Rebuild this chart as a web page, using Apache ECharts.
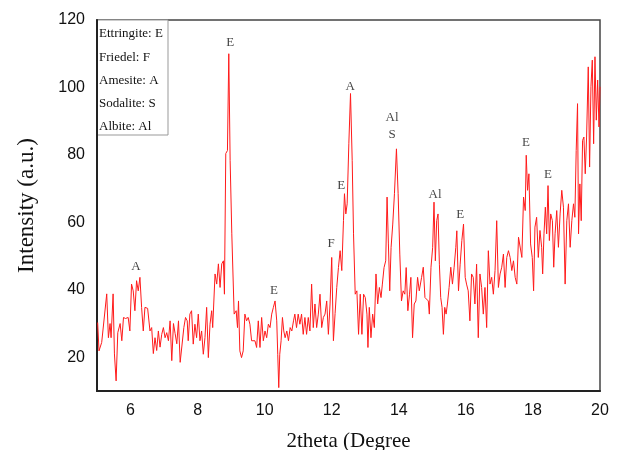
<!DOCTYPE html>
<html>
<head>
<meta charset="utf-8">
<script src="https://cdn.jsdelivr.net/npm/echarts@6/dist/echarts.min.js"></script>
<style>
  html, body { margin: 0; padding: 0; background: #fff; }
  #chart { width: 618px; height: 450px; }
</style>
</head>
<body>
<div id="chart"></div>
<script>
// 2theta positions (degrees)
var twoTheta = [
  5.02, 5.06, 5.14, 5.19, 5.29, 5.34, 5.39, 5.42, 5.48, 5.52, 5.57, 5.62, 5.69, 5.74, 5.79, 5.85, 5.93, 5.98,
  6.03, 6.08, 6.13, 6.18, 6.23, 6.28, 6.33, 6.38, 6.43, 6.51, 6.58, 6.63, 6.68, 6.73, 6.78, 6.83, 6.88, 6.93, 6.98,
  7.03, 7.08, 7.13, 7.18, 7.23, 7.28, 7.33, 7.38, 7.43, 7.48, 7.59, 7.64, 7.69, 7.72, 7.77, 7.82, 7.87, 7.92, 7.97,
  8.02, 8.07, 8.12, 8.17, 8.22, 8.27, 8.32, 8.37, 8.42, 8.45, 8.52, 8.57, 8.62, 8.67, 8.72, 8.77, 8.80, 8.84, 8.89, 8.93, 8.97,
  9.02, 9.09, 9.15, 9.19, 9.22, 9.26, 9.31, 9.36, 9.41, 9.46, 9.51, 9.56, 9.61, 9.66, 9.71, 9.76, 9.81, 9.86, 9.91, 9.96,
  10.01, 10.06, 10.11, 10.16, 10.21, 10.26, 10.31, 10.36, 10.39, 10.42, 10.45, 10.49, 10.53, 10.57, 10.61, 10.66, 10.71, 10.76, 10.81, 10.86, 10.90, 10.95,
  11.00, 11.05, 11.10, 11.15, 11.20, 11.25, 11.30, 11.35, 11.40, 11.45, 11.50, 11.55, 11.60, 11.65, 11.70, 11.75, 11.80, 11.85, 11.90, 11.95,
  12.00, 12.05, 12.10, 12.15, 12.20, 12.25, 12.30, 12.35, 12.38, 12.42, 12.46, 12.51, 12.56, 12.61, 12.65, 12.70, 12.75, 12.80, 12.85, 12.90, 12.95,
  13.00, 13.05, 13.08, 13.12, 13.17, 13.22, 13.27, 13.32, 13.37, 13.42, 13.47, 13.51, 13.56, 13.61, 13.65, 13.69, 13.73, 13.77, 13.82, 13.87, 13.93, 13.98,
  14.03, 14.08, 14.13, 14.18, 14.22, 14.27, 14.32, 14.36, 14.41, 14.46, 14.51, 14.56, 14.61, 14.68, 14.73, 14.78, 14.83, 14.88, 14.91, 14.96,
  15.01, 15.05, 15.09, 15.13, 15.17, 15.21, 15.25, 15.29, 15.33, 15.37, 15.41, 15.45, 15.50, 15.55, 15.60, 15.65, 15.70, 15.73, 15.78, 15.83, 15.88, 15.93, 15.98,
  16.02, 16.07, 16.12, 16.17, 16.22, 16.27, 16.32, 16.37, 16.42, 16.47, 16.52, 16.57, 16.62, 16.67, 16.72, 16.77, 16.82, 16.87, 16.92, 16.97,
  17.02, 17.07, 17.12, 17.17, 17.22, 17.27, 17.32, 17.37, 17.42, 17.47, 17.52, 17.57, 17.62, 17.67, 17.72, 17.77, 17.80, 17.84, 17.88, 17.93, 17.98,
  18.02, 18.06, 18.11, 18.16, 18.21, 18.26, 18.29, 18.33, 18.37, 18.41, 18.45, 18.49, 18.53, 18.58, 18.62, 18.66, 18.71, 18.76, 18.81, 18.86, 18.91, 18.96,
  19.01, 19.06, 19.11, 19.16, 19.21, 19.25, 19.29, 19.33, 19.36, 19.40, 19.44, 19.48, 19.52, 19.56, 19.60, 19.65, 19.69, 19.73, 19.77, 19.81, 19.85, 19.89, 19.93, 19.97, 20.00
]
// intensity (a.u.)
var intensity = [
  30.3, 21.9, 24.4, 24, 38.8, 25.8, 30, 25.8, 38.8, 21, 13, 27.3, 30, 24.9, 31.8, 31.5, 31.8, 27.8,
  41.7, 39.7, 33.8, 42.7, 39.7, 43.7, 34.8, 27.8, 34.8, 34.5, 27.8, 28.8, 21.1, 25.8, 22, 27.8, 23, 26.8, 28.8,
  25.8, 27.3, 24.9, 30.8, 19, 30, 27, 24, 30.8, 18.5, 28.8, 31.8, 30.8, 24.9, 32.8, 33.8, 23.9, 29.8, 25.8,
  32.8, 24.9, 27.8, 20.9, 25.8, 34.8, 19.9, 29.8, 33.8, 28.8, 44.7, 41.7, 47.7, 40.7, 47.7, 48.6, 38.7, 80.4, 81.3, 110, 78.4,
  56.6, 32.8, 33.8, 28.8, 36.7, 21.9, 19.9, 21.9, 32.8, 30.8, 31.8, 29.8, 24.9, 24.9, 24.9, 22.9, 30.8, 22.9, 31.8, 24.9,
  27.8, 25.8, 29.8, 28.8, 32.8, 34.8, 36.7, 30.8, 20.9, 11, 20.9, 24.9, 31.8, 27.8, 25.8, 27.8, 24.9, 28.8, 27.8, 30.8, 32.8, 28.8,
  32.8, 29.8, 32.8, 26.8, 31.8, 26.8, 31.8, 27.8, 41.7, 28.8, 35.8, 28.8, 32.8, 38.7, 28.8, 31.8, 32.8, 36.7, 26.8, 35.8,
  49.6, 24.9, 33, 40.7, 46.6, 51.6, 45.7, 60.5, 68.5, 62.5, 65.5, 83.3, 98.2, 78.4, 56.6, 38.7, 39.7, 26.8, 38.7, 26.8, 38.7,
  37.7, 32.8, 22.9, 34.8, 25.8, 32.8, 28.8, 44.7, 35.8, 40.7, 37.7, 41.7, 46.6, 48.6, 67.5, 53.6, 39.7, 52.6, 59.5, 68.5, 81.8, 68.5,
  50.6, 36.7, 39.7, 38.7, 46.6, 33.8, 38.7, 43.7, 25.8, 35.8, 36.7, 43.7, 39.7, 43.7, 46.7, 37.7, 37.7, 36.7, 32.8, 46.7,
  52.6, 66, 48.6, 60.5, 62.5, 47.6, 37.7, 34.8, 26.8, 34.8, 32.8, 35.8, 40.7, 46.7, 41.7, 46.7, 52.6, 57.5, 39.7, 47.6, 54.6, 59.5, 43.7,
  41.7, 39.7, 30.8, 44.7, 43.7, 35.8, 47.6, 25.8, 44.7, 40.7, 32.8, 40.7, 28.8, 51.6, 41.7, 43.7, 38.7, 45.7, 60.5, 40.7,
  44.7, 46.7, 50.6, 40.7, 49.6, 51.6, 49.6, 45.7, 48.6, 43.7, 41.7, 55.6, 55.6, 49.6, 67.5, 63.5, 79.9, 69.5, 74.4, 53.6, 49.6,
  39.7, 58.6, 61.5, 49.6, 57.6, 52.6, 44.7, 56.6, 64.5, 56.6, 70.9, 54.6, 62.5, 60.5, 46.7, 56.6, 63.5, 52.6, 62.5, 69.5, 64.5, 41.7,
  60.5, 65.5, 52.6, 60.5, 65.5, 61.5, 81.3, 95.2, 56.6, 71.4, 60.5, 84.3, 85.3, 74.4, 85.3, 106.1, 76.4, 100.2, 108.1, 83.3, 109.1, 90.3, 102.2, 88.3, 100.2
]

// phase labels placed above peaks
var peakNames = ['A', 'E', 'E', 'F', 'E', 'A', 'Al', 'S', 'Al', 'E', 'E', 'E']
var peakX = [6.16, 8.97, 10.28, 11.98, 12.28, 12.55, 13.8, 13.8, 15.08, 15.83, 17.79, 18.45]
var peakY = [46.9, 113.2, 39.7, 53.7, 70.9, 100.4, 91.2, 86.1, 68.3, 62.3, 83.7, 74.2]

var legendLines = ['Ettringite: E', 'Friedel: F', 'Amesite: A', 'Sodalite: S', 'Albite: Al']

var serif = '"Liberation Serif", "DejaVu Serif", serif'
var sans = '"Liberation Sans", Arial, sans-serif'

var lineData = twoTheta.map(function (x, i) { return [x, intensity[i]] })
var labelData = peakNames.map(function (n, i) { return { name: n, value: [peakX[i], peakY[i]] } })

var legendGraphics = [{
  type: 'rect',
  shape: { x: 97, y: 20, width: 71, height: 115 },
  style: { fill: '#fff', stroke: '#999', lineWidth: 1 }
}]
legendLines.forEach(function (t, i) {
  legendGraphics.push({
    type: 'text',
    x: 99,
    y: 34 + i * 23.2,
    style: { text: t, font: '13px ' + serif, fill: '#111', textVerticalAlign: 'middle' }
  })
})

var myChart = echarts.init(document.getElementById('chart'))
var option = {
  animation: false,
  grid: {
    left: 97, right: 18, top: 20, bottom: 59,
    outerBoundsMode: 'none',
    containLabel: false,
    show: true, borderColor: '#444', borderWidth: 1.5, backgroundColor: 'transparent'
  },
  xAxis: {
    type: 'value',
    min: 5, max: 20, interval: 1,
    name: '2theta (Degree',
    nameLocation: 'middle',
    nameGap: 40,
    nameTextStyle: { fontFamily: serif, fontSize: 21, color: '#111' },
    axisLine: { show: true, lineStyle: { color: '#222', width: 2 } },
    axisTick: { show: false },
    splitLine: { show: false },
    axisLabel: {
      margin: 12,
      fontFamily: sans, fontSize: 16, color: '#111',
      formatter: function (v) { return (v % 2 === 0) ? String(v) : '' }
    }
  },
  yAxis: {
    type: 'value',
    min: 10, max: 120, interval: 10,
    name: 'Intensity (a.u.)',
    nameLocation: 'middle',
    nameGap: 59,
    nameTextStyle: { fontFamily: serif, fontSize: 23, color: '#111' },
    axisLine: { show: true, lineStyle: { color: '#222', width: 2 } },
    axisTick: { show: false },
    splitLine: { show: false },
    axisLabel: {
      margin: 12,
      fontFamily: sans, fontSize: 16, color: '#111',
      formatter: function (v) { return (v % 20 === 0 && v > 10) ? String(v) : '' }
    }
  },
  series: [
    {
      type: 'line',
      data: lineData,
      symbol: 'none',
      lineStyle: { color: '#ff1a1a', width: 1 }
    },
    {
      type: 'scatter',
      data: labelData,
      symbolSize: 0,
      silent: true,
      label: {
        show: true,
        position: 'inside',
        formatter: '{b}',
        fontFamily: serif,
        fontSize: 13,
        color: '#111'
      }
    }
  ],
  graphic: legendGraphics
}
myChart.setOption(option)
</script>
</body>
</html>
